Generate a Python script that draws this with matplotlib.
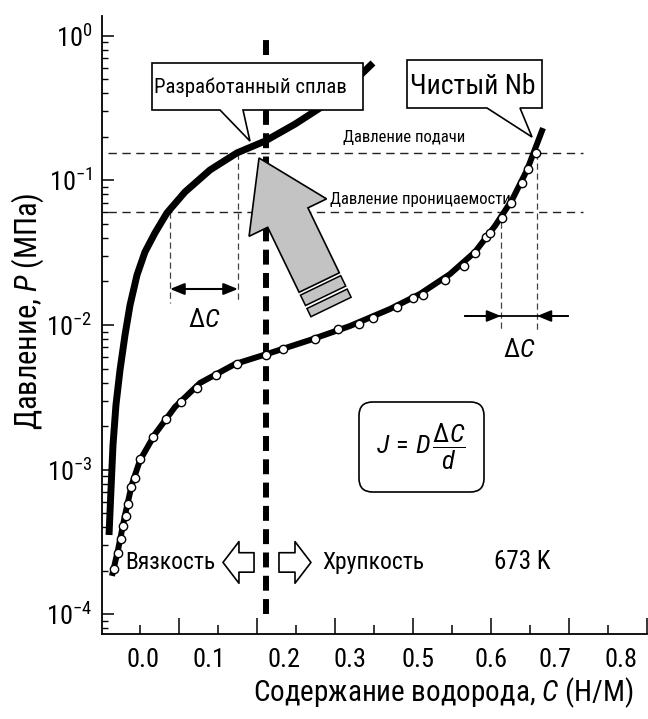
import numpy as np
import matplotlib
matplotlib.use('Agg')
import matplotlib.pyplot as plt
from matplotlib import font_manager
from matplotlib.patches import Polygon, FancyBboxPatch
from matplotlib.transforms import IdentityTransform
from matplotlib.ticker import LogLocator, FixedLocator, NullFormatter, NullLocator

names = {f.name for f in font_manager.fontManager.ttflist}
FAM = 'Liberation Sans'
for cand in ['Liberation Sans Narrow', 'Arial Narrow', 'Roboto Condensed', 'PT Sans Narrow',
             'Fira Sans Condensed', 'IBM Plex Sans Condensed', 'Open Sans Condensed',
             'Sofia Sans Condensed']:
    if cand in names:
        FAM = cand
        break
plt.rcParams['font.family'] = [FAM, 'DejaVu Sans']
plt.rcParams['mathtext.fontset'] = 'custom'
plt.rcParams['mathtext.rm'] = FAM
plt.rcParams['mathtext.it'] = FAM + ':italic'
plt.rcParams['mathtext.bf'] = FAM + ':bold'
plt.rcParams['mathtext.sf'] = FAM

# ---------------- data ----------------
# developed alloy (thick line)
alloy_c = [-0.0397, -0.0372, -0.0346, -0.0308, -0.0256, -0.0192, -0.0128, -0.0038, 0.0064,
           0.0192, 0.0346, 0.0577, 0.0897, 0.1244, 0.1603, 0.1987, 0.2308, 0.2628, 0.2987]
alloy_p = [3.53e-4, 7.23e-4, 1.48e-3, 2.80e-3, 4.89e-3, 8.53e-3, 1.37e-2, 2.22e-2, 3.20e-2,
           4.33e-2, 5.96e-2, 8.32e-2, 0.118, 0.155, 0.187, 0.245, 0.317, 0.422, 0.649]

# pure Nb: fitted line
nb_line_c = [-0.0359, -0.0282, -0.0192, -0.0103, 0.0, 0.0192, 0.0449, 0.0769, 0.1218, 0.1667,
             0.2179, 0.2692, 0.3205, 0.3590, 0.3974, 0.4295, 0.4551, 0.4769, 0.4962, 0.5167]
nb_line_p = [1.84e-4, 2.78e-4, 4.85e-4, 7.94e-4, 1.16e-3, 1.76e-3, 2.71e-3, 3.97e-3, 5.37e-3, 6.40e-3,
             7.87e-3, 9.84e-3, 1.29e-2, 1.64e-2, 2.25e-2, 3.20e-2, 4.84e-2, 7.31e-2, 0.118, 0.230]

# pure Nb: measured points
nb_c = [-0.0333, -0.0282, -0.0244, -0.0218, -0.0179, -0.0154, -0.0115, -0.0064, 0.0, 0.0167,
        0.0333, 0.0526, 0.0731, 0.0974, 0.1244, 0.1615, 0.1833, 0.2244, 0.2538, 0.2808,
        0.2987, 0.3295, 0.3500, 0.3628, 0.3910, 0.4154, 0.4295, 0.4436, 0.4487, 0.4641,
        0.4756, 0.4897, 0.4974, 0.5077]
nb_p = [2.05e-4, 2.65e-4, 3.31e-4, 4.07e-4, 4.78e-4, 5.78e-4, 7.59e-4, 8.75e-4, 1.18e-3, 1.68e-3,
        2.24e-3, 2.94e-3, 3.67e-3, 4.51e-3, 5.37e-3, 6.21e-3, 6.82e-3, 8.00e-3, 9.38e-3, 1.016e-2,
        1.117e-2, 1.331e-2, 1.537e-2, 1.611e-2, 2.046e-2, 2.56e-2, 3.15e-2, 4.06e-2, 4.33e-2, 5.50e-2,
        6.98e-2, 9.59e-2, 0.1199, 0.1547]

p_feed = 0.1547          # feed pressure
p_perm = 0.0605          # permeation pressure
press_c_range = [-0.041, 0.568]
c_ductile_brittle = 0.1615
dbtt_p_range = [1.0e-4, 0.966]

alloy_dc = [0.0385, 0.1256]   # ΔC of alloy
nb_dc = [0.4628, 0.5090]      # ΔC of Nb
alloy_dc_p = 0.01774
nb_dc_p = 0.01154
alloy_vline_bottom = 0.01418
nb_vline_bottom = 0.00924

xtick_long = [0.05, 0.15, 0.25, 0.35, 0.45, 0.55, 0.65]
xtick_short = [0.0, 0.1, 0.2, 0.3, 0.4, 0.5, 0.6]
xlabel_pos = [0.0038, 0.0885, 0.1846, 0.2692, 0.3564, 0.4500, 0.5321, 0.6167]
xlabel_txt = ['0.0', '0.1', '0.2', '0.3', '0.5', '0.6', '0.7', '0.8']
ytick_major = [1e-4, 1e-3, 1e-2, 1e-1, 1e0]

# ---------------- figure ----------------
W, H = 648, 719
fig = plt.figure(figsize=(W / 100, H / 100), dpi=100)
AX_L, AX_R, AX_T, AX_B = 102, 647, 16, 634
ax = fig.add_axes([AX_L / W, 1 - AX_B / H, (AX_R - AX_L) / W, (AX_B - AX_T) / H])


def pax(px, py):
    return ((px - AX_L) / (AX_R - AX_L), (AX_B - py) / (AX_B - AX_T))


ax.set_xlim(-0.0487, 0.65)
ax.set_yscale('log')
ax.set_ylim(10 ** -4.137, 10 ** 0.137)
for s in ['top', 'right']:
    ax.spines[s].set_visible(False)
for s in ['left', 'bottom']:
    ax.spines[s].set_linewidth(1.3)

ax.xaxis.set_major_locator(FixedLocator(xtick_long))
ax.xaxis.set_minor_locator(FixedLocator(xtick_short))
ax.tick_params(axis='x', which='major', direction='in', length=11.5, width=1.1, labelbottom=False)
ax.tick_params(axis='x', which='minor', direction='in', length=6.5, width=1.1)

ax.yaxis.set_major_locator(FixedLocator(ytick_major))
ax.yaxis.set_minor_locator(LogLocator(base=10, subs=np.arange(2, 10), numticks=20))
ax.yaxis.set_minor_formatter(NullFormatter())
ax.tick_params(axis='y', which='major', direction='in', length=8.6, width=1.1, labelsize=19, pad=7)
ax.tick_params(axis='y', which='minor', direction='in', length=4.3, width=1.0)

sec = ax.secondary_xaxis('bottom')
sec.set_xticks(xlabel_pos, xlabel_txt)
sec.xaxis.set_minor_locator(NullLocator())
sec.tick_params(length=0, labelsize=19, pad=10)
sec.spines['bottom'].set_visible(False)

ax.set_xlabel('Содержание водорода, $\\it{C}$ (H/M)', fontsize=21, va='center', ha='center')
ax.xaxis.set_label_coords(*pax(443, 693))
ax.set_ylabel('Давление, $\\it{P}$ (МПа)', fontsize=22, va='center', ha='center')
ax.yaxis.set_label_coords(*pax(28, 311))

# ---------------- lines ----------------
ax.plot([c_ductile_brittle] * 2, dbtt_p_range, color='k', lw=4.3,
        linestyle=(0, (2.5, 1.4)), zorder=2)
ax.plot(press_c_range, [p_feed] * 2, color='#222222', lw=1.0, linestyle=(0, (6, 4)), zorder=1)
ax.plot(press_c_range, [p_perm] * 2, color='#222222', lw=1.0, linestyle=(0, (6, 4)), zorder=1)

ax.plot([alloy_dc[0]] * 2, [p_perm, alloy_vline_bottom], color='#444444', lw=0.9, ls=(0, (5, 3)))
ax.plot([alloy_dc[1]] * 2, [p_feed, alloy_vline_bottom], color='#444444', lw=0.9, ls=(0, (5, 3)))
ax.plot([nb_dc[0]] * 2, [p_perm, nb_vline_bottom], color='#444444', lw=0.9, ls=(0, (5, 3)))
ax.plot([nb_dc[1]] * 2, [p_feed, nb_vline_bottom], color='#444444', lw=0.9, ls=(0, (5, 3)))

ax.plot(alloy_c, alloy_p, color='k', lw=5, solid_capstyle='butt', solid_joinstyle='round', zorder=3)
ax.plot(nb_line_c, nb_line_p, color='k', lw=4.3, solid_capstyle='butt', solid_joinstyle='round', zorder=3)
ax.plot(nb_c, nb_p, 'o', mfc='white', mec='k', ms=6, mew=1.0, zorder=4)

# ΔC arrows
ax.annotate('', xy=(alloy_dc[1], alloy_dc_p), xytext=(alloy_dc[0], alloy_dc_p),
            arrowprops=dict(arrowstyle='<|-|>,head_length=0.86,head_width=0.35', lw=1.5,
                            color='k', shrinkA=0, shrinkB=0, mutation_scale=10))
ax.text(np.mean(alloy_dc), 0.01083, '$\\Delta C$', fontsize=19, ha='center', va='center')

ax.plot([0.4167, 0.5487], [nb_dc_p] * 2, color='k', lw=1.3)
ax.annotate('', xy=(nb_dc[0], nb_dc_p), xytext=(0.4167, nb_dc_p),
            arrowprops=dict(arrowstyle='-|>,head_length=0.86,head_width=0.35', lw=1.3,
                            color='k', shrinkA=0, shrinkB=0, mutation_scale=10))
ax.annotate('', xy=(nb_dc[1], nb_dc_p), xytext=(0.5487, nb_dc_p),
            arrowprops=dict(arrowstyle='-|>,head_length=0.86,head_width=0.35', lw=1.3,
                            color='k', shrinkA=0, shrinkB=0, mutation_scale=10))
ax.text(np.mean(nb_dc), 0.00672, '$\\Delta C$', fontsize=19, ha='center', va='center')

# pressure texts
ax.text(0.3385, 0.1995, 'Давление подачи', fontsize=12, ha='center', va='center')
ax.text(0.359, 0.0732, 'Давление проницаемости', fontsize=12, ha='center', va='center')

# ---------------- callout boxes ----------------
def callout(box_px, base_px, tip_data, text, fs, text_px):
    x0, y0, x1, y1 = box_px
    tip = ax.transAxes.inverted().transform(ax.transData.transform(tip_data))
    ax0, ayt = pax(x0, y0)
    ax1, ayb = pax(x1, y1)
    ba, _ = pax(base_px[0], y1)
    bb, _ = pax(base_px[1], y1)
    verts = [(ax0, ayt), (ax1, ayt), (ax1, ayb), (bb, ayb), tuple(tip), (ba, ayb), (ax0, ayb)]
    ax.add_patch(Polygon(verts, closed=True, transform=ax.transAxes, fc='white', ec='k',
                         lw=1.2, zorder=6, clip_on=False))
    tx, ty = pax(*text_px)
    ax.text(tx, ty, text, transform=ax.transAxes, fontsize=fs, ha='center', va='center', zorder=7)


callout((152, 63, 363, 110), (220, 243), (0.1410, 0.187), 'Разработанный сплав', 15, (250, 87))
callout((407, 60, 542, 108), (487, 520), (0.5026, 0.1995), 'Чистый Nb', 20, (473, 86))

# ---------------- big gray arrow ----------------
arrow_tip = (0.1526, 0.1429)
arrow_tail = (0.2449, 0.01332)
tip_d = ax.transData.transform(arrow_tip)
tail_d = ax.transData.transform(arrow_tail)
u = tail_d - tip_d
L = np.hypot(*u)
u = u / L
n = np.array([-u[1], u[0]])
hl, hh, sh, se = 0.40 * L, 0.26 * L, 0.135 * L, 0.836 * L
body = [tip_d, tip_d + hl * u + hh * n, tip_d + hl * u + sh * n, tip_d + se * u + sh * n,
        tip_d + se * u - sh * n, tip_d + hl * u - sh * n, tip_d + hl * u - hh * n]
ax.add_patch(Polygon(body, closed=True, transform=IdentityTransform(), fc='#c3c3c3', ec='k',
                     lw=1.2, zorder=5, clip_on=False))
for a, b in [(0.855, 0.925), (0.945, 1.0)]:
    q = [tip_d + a * L * u + sh * n, tip_d + b * L * u + sh * n,
         tip_d + b * L * u - sh * n, tip_d + a * L * u - sh * n]
    ax.add_patch(Polygon(q, closed=True, transform=IdentityTransform(), fc='#c3c3c3', ec='k',
                         lw=1.1, zorder=5, clip_on=False))

# ---------------- formula box ----------------
bx0, by1 = pax(359, 402)
bx1, by0 = pax(484, 492)
ax.add_patch(FancyBboxPatch((bx0, by0), bx1 - bx0, by1 - by0,
                            boxstyle='round,pad=0,rounding_size=0.025',
                            mutation_aspect=(AX_R - AX_L) / (AX_B - AX_T),
                            transform=ax.transAxes, fc='white', ec='k', lw=1.2, zorder=6))
fx, fy = pax(421, 447)
ax.text(fx, fy, '$J\\,=\\,D\\,\\dfrac{\\Delta C}{d}$', transform=ax.transAxes, fontsize=19,
        ha='center', va='center', zorder=7)

# ---------------- ductile / brittle ----------------
p_text = 2.28e-4
ax.text(-0.0192, p_text, 'Вязкость', fontsize=17, ha='left', va='center', zorder=7)
ax.text(0.2333, p_text, 'Хрупкость', fontsize=17, ha='left', va='center')
ax.text(0.4538, p_text, '673 K', fontsize=18, ha='left', va='center')
hollow = dict(arrowstyle='simple,head_length=1.15,head_width=3.0,tail_width=1.4', fc='white',
              ec='k', lw=1.2, shrinkA=0, shrinkB=0, mutation_scale=10)
ax.annotate('', xy=(0.1064, p_text), xytext=(0.1462, p_text), arrowprops=hollow)
ax.annotate('', xy=(0.2192, p_text), xytext=(0.1782, p_text), arrowprops=hollow)

fig.savefig('out.png', dpi=100)
